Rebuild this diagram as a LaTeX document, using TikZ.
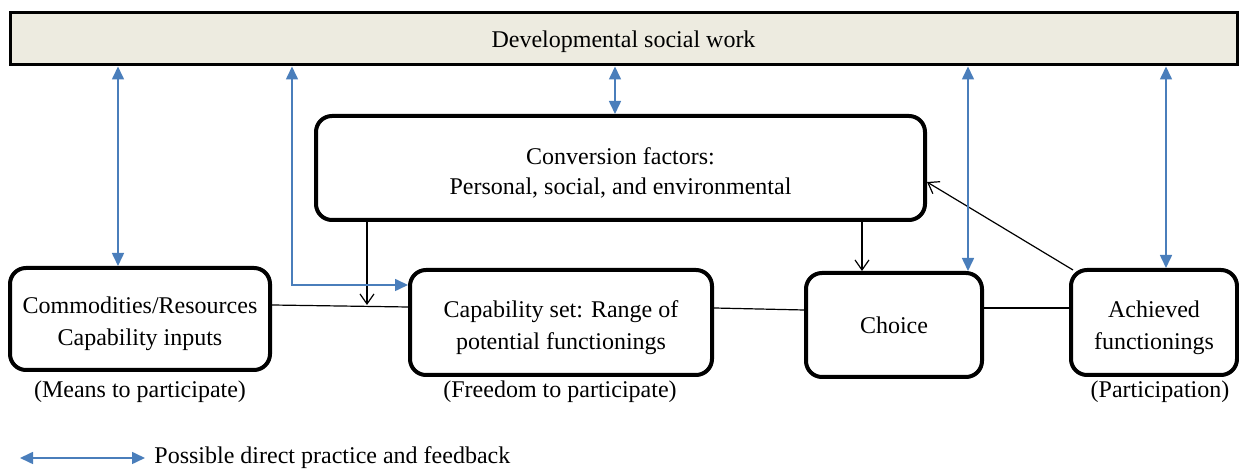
\documentclass[tikz,border=0pt]{standalone}
\usepackage{fontspec}
\setmainfont{Liberation Serif}
\usetikzlibrary{arrows.meta}
\definecolor{fbblue}{HTML}{4A7EBB}
\definecolor{bannerfill}{HTML}{EDEBE0}

\begin{document}
\begin{tikzpicture}[x=0.5pt,y=-0.5pt,
  every node/.style={font=\fontsize{12}{16}\selectfont},
  box/.style={draw,line width=2pt,rounded corners=8pt,inner sep=0pt},
  boxtext/.style={align=center,inner sep=0pt,yshift=-2.5pt},
  fb/.style={draw=fbblue,line width=0.8pt,{Triangle[length=6.5pt,width=6pt]}-{Triangle[length=6.5pt,width=6pt]}},
  cause/.style={draw,line width=0.6pt,-{Straight Barb[length=5pt,width=7pt]}}]
  \useasboundingbox (0,0) rectangle (1239,469);
  % banner and boxes
  \node[draw,line width=1.5pt,fill=bannerfill,minimum width=613.5pt,minimum height=26pt,inner sep=0pt] (dsw) at (623.5,39) {};
  \node[yshift=-1.5pt] (dswtxt) at (dsw.center) {Developmental social work};
  \node[box,minimum width=304.5pt,minimum height=52pt] (conv) at (620.5,168) {};
  \node[box,minimum width=130pt,minimum height=51pt] (comm) at (140,319) {};
  \node[box,minimum width=151pt,minimum height=52.5pt] (cap) at (561,322.5) {};
  \node[box,minimum width=88pt,minimum height=52pt] (choice) at (894,325) {};
  \node[box,minimum width=83pt,minimum height=52.5pt] (ach) at (1154,322.5) {};
  \node[boxtext,font=\fontsize{12}{15}\selectfont] (convtxt) at (conv.center) {Conversion factors:\\Personal, social, and environmental};
  \node[boxtext] (commtxt) at (comm.center) {Commodities/Resources\\Capability inputs};
  \node[boxtext] (captxt) at (cap.center) {Capability set: Range of\\potential functionings};
  \node[boxtext,yshift=2.5pt] (choicetxt) at (choice.center) {Choice};
  \node[boxtext] (achtxt) at (ach.center) {Achieved\\functionings};
  \node (commlbl) at (140,392) {(Means to participate)};
  \node (caplbl) at (560,392) {(Freedom to participate)};
  \node (achlbl) at (1160,392) {(Participation)};
  % links between the boxes
  \draw[line width=0.6pt] (comm.east |- 0,305) -- (cap.west |- 0,307);
  \draw[line width=0.6pt] (cap.east |- 0,308) -- (choice.west |- 0,310);
  \draw[line width=0.6pt] (choice.east |- 0,308) -- (ach.west |- 0,308);
  \coordinate (join) at (367,305);
  \draw[cause] (conv.south -| join) -- (join);
  \draw[cause] (conv.south -| 862,0) -- (choice.north -| 862,0);
  \draw[cause] (ach.north west) ++(4,2) -- (conv.east |- 0,182);
  % practice and feedback
  \draw[fb] (dsw.south -| 118,0) -- (comm.north -| 118,0);
  \draw[fb] (dsw.south -| 292,0) |- (cap.west |- 0,285);
  \draw[fb] (dsw.south -| 615,0) -- (conv.north -| 615,0);
  \draw[fb] (dsw.south -| 968,0) -- (choice.north -| 968,0);
  \draw[fb] (dsw.south -| 1166,0) -- (ach.north -| 1166,0);
  % legend
  \coordinate (lgA) at (20,458);
  \coordinate (lgB) at (145,458);
  \draw[fb] (lgA) -- (lgB) node[right,xshift=1pt] (lgtxt) {Possible direct practice and feedback};
\end{tikzpicture}
\end{document}
